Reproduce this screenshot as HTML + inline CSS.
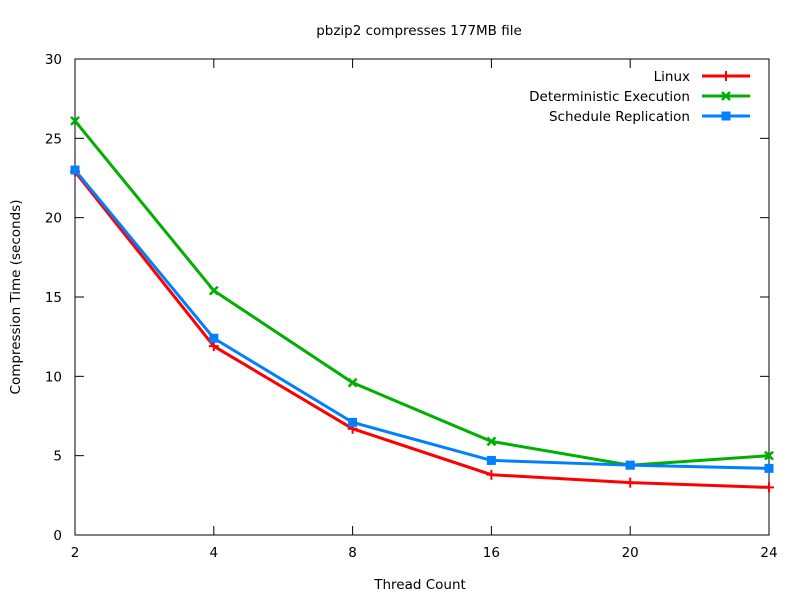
<!DOCTYPE html>
<html><head><meta charset="utf-8"><style>
body{margin:0;background:#fff;}
svg text{font-family:"DejaVu Sans","Liberation Sans",sans-serif;font-size:13.5px;fill:#000;}
</style></head><body>
<svg id="chart" width="800" height="600" xmlns="http://www.w3.org/2000/svg"></svg>
<script>
const categories = ["2","4","8","16","20","24"];
const linuxVals = [22.9, 11.9, 6.7, 3.8, 3.3, 3.0];
const detVals = [26.1, 15.4, 9.6, 5.9, 4.4, 5.0];
const schedVals = [23.0, 12.4, 7.1, 4.7, 4.4, 4.2];
const yTicks = [0,5,10,15,20,25,30];
const seriesNames = ["Linux","Deterministic Execution","Schedule Replication"];

const svg = document.getElementById('chart');
const NS = "http://www.w3.org/2000/svg";
const L=75,R=769,T=59,B=535;
const xS = i => L + i*(R-L)/(categories.length-1);
const yS = v => B - v*(B-T)/30;
function mk(tag, attrs, parent){const e=document.createElementNS(NS,tag);for(const k in attrs)e.setAttribute(k,attrs[k]);(parent||svg).appendChild(e);return e;}

const title = mk('text',{x:419,y:35,'text-anchor':'middle'});
title.textContent = "pbzip2 compresses 177MB file";



const border = mk('rect',{x:L,y:T,width:R-L,height:B-T,fill:'none',stroke:'#000','stroke-width':1});



yTicks.forEach(v=>{
  const y=yS(v);
  const t=mk('line',{x1:L,x2:L+9,y1:y,y2:y,stroke:'#000'});
  
  
  mk('line',{x1:R,x2:R-9,y1:y,y2:y,stroke:'#000'});
  const lb=mk('text',{x:L-13,y:y+5,'text-anchor':'end'});
  lb.textContent=v;
  
  
});
categories.forEach((c,i)=>{
  const x=xS(i);
  const t=mk('line',{x1:x,x2:x,y1:B,y2:B-9,stroke:'#000'});
  
  
  mk('line',{x1:x,x2:x,y1:T,y2:T+9,stroke:'#000'});
  const lb=mk('text',{x:x,y:B+22,'text-anchor':'middle'});
  lb.textContent=c;
  
  
});
const xt=mk('text',{x:420,y:589,'text-anchor':'middle'});
xt.textContent="Thread Count";


const yt=mk('text',{x:20,y:297,'text-anchor':'middle',transform:'rotate(-90 20 297)'});
yt.textContent="Compression Time (seconds)";



function marker(kind,x,y,color,g){
  if(kind==='plus'){
    mk('path',{d:`M${x-5} ${y}H${x+5}M${x} ${y-5}V${y+5}`,stroke:color,'stroke-width':2},g);
  }else if(kind==='x'){
    mk('path',{d:`M${x-4} ${y-4}L${x+4} ${y+4}M${x-4} ${y+4}L${x+4} ${y-4}`,stroke:color,'stroke-width':2.5},g);
  }else{
    mk('rect',{x:x-4.5,y:y-4.5,width:9,height:9,fill:color},g);
  }
}
const series=[[linuxVals,'#ff0000','plus'],[detVals,'#00b000','x'],[schedVals,'#0080ff','sq']];
series.forEach(([vals,color,kind],si)=>{
  const g=mk('g',{});
  
  
  const pts=vals.map((v,i)=>xS(i)+','+yS(v)).join(' ');
  mk('polyline',{points:pts,fill:'none',stroke:color,'stroke-width':3},g);
  vals.forEach((v,i)=>marker(kind,xS(i),yS(v),color,g));
  const ly=76+si*20;
  const lg=mk('g',{});
  
  
  const tx=mk('text',{x:690,y:ly+5,'text-anchor':'end'},lg);
  tx.textContent=seriesNames[si];
  mk('line',{x1:702,x2:750,y1:ly,y2:ly,stroke:color,'stroke-width':3},lg);
  marker(kind,726,ly,color,lg);
});
</script>
</body></html>
